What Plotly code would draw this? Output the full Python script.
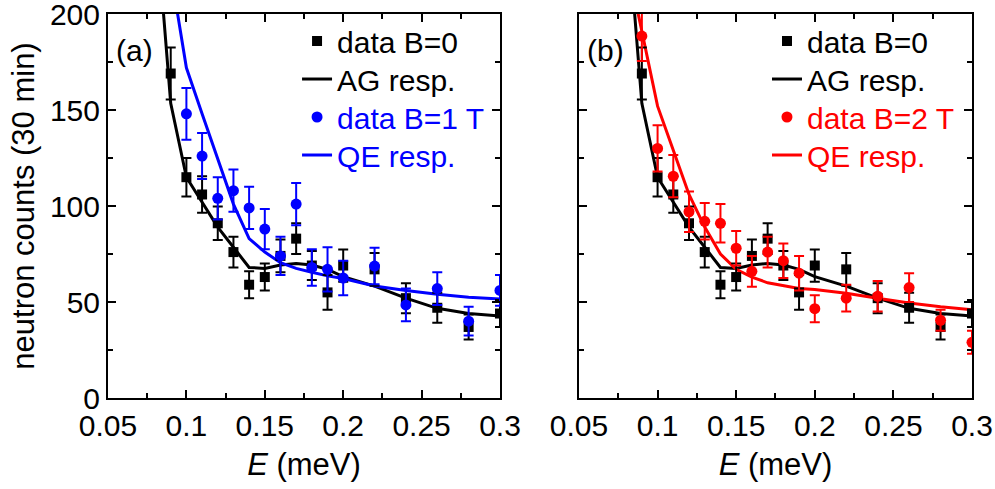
import plotly.graph_objects as go

# ---- data ----
E_B0 = [0.09, 0.10, 0.11, 0.12, 0.13, 0.14, 0.15, 0.16, 0.17, 0.18, 0.19, 0.20, 0.22, 0.24, 0.26, 0.28, 0.30]
cnt_B0 = [169, 115, 106, 91, 76, 59, 63, 74, 83, 69, 55, 69, 67, 52, 47, 37, 44]
err_B0 = [13.5, 10, 9.5, 8.7, 8, 7, 7, 8.5, 8, 7.5, 9, 8.4, 8.5, 7.8, 7.8, 6.5, 7]

E_B1 = [0.10, 0.11, 0.12, 0.13, 0.14, 0.15, 0.16, 0.17, 0.18, 0.19, 0.20, 0.22, 0.24, 0.26, 0.28, 0.30]
cnt_B1 = [148, 126, 104, 108, 99, 88, 74, 101, 68, 67, 62.5, 68.7, 48.5, 57, 40, 56]
err_B1 = [13.5, 12, 11, 11, 11, 10.5, 10, 11, 9.5, 11.5, 9, 9.5, 8.5, 8.5, 7.5, 8]

E_B2 = [0.09, 0.10, 0.11, 0.12, 0.13, 0.14, 0.15, 0.16, 0.17, 0.18, 0.19, 0.20, 0.22, 0.24, 0.26, 0.28, 0.30]
cnt_B2 = [188.5, 130, 115.5, 97, 92, 91, 78, 66, 76, 71.5, 65, 46.5, 52, 53, 57.5, 40.5, 29]
err_B2 = [13, 12, 11, 10.5, 9.5, 10, 9, 8, 8, 9, 9, 7, 7, 8, 7.5, 5.5, 6]

E_AG = [0.08, 0.09, 0.10, 0.11, 0.12, 0.13, 0.14, 0.15, 0.16, 0.17, 0.18, 0.19, 0.20, 0.22, 0.24, 0.26, 0.28, 0.30]
AG_resp = [255, 153.5, 115, 102, 89, 78.5, 68, 67.5, 69.3, 70.1, 69.3, 67, 63.2, 58.3, 52, 46.7, 44, 42.7]

E_QE1 = [0.09, 0.10, 0.11, 0.12, 0.13, 0.14, 0.15, 0.16, 0.17, 0.18, 0.19, 0.20, 0.22, 0.24, 0.26, 0.28, 0.30]
QE1_resp = [222, 172, 148, 124, 101, 83, 76, 70.5, 67.5, 65.5, 63.6, 62.2, 58.3, 56, 54, 52.5, 51.5]

E_QE2 = [0.08, 0.09, 0.10, 0.11, 0.12, 0.13, 0.14, 0.15, 0.16, 0.17, 0.18, 0.19, 0.20, 0.22, 0.24, 0.26, 0.28, 0.30]
QE2_resp = [230, 191, 152, 129, 106, 89, 75, 67, 63, 60, 58.3, 57, 56.5, 54.5, 52, 49.5, 47.5, 46]

FONT = "Liberation Sans, Arial, sans-serif"
BLUE = "#0000FF"
RED = "#FF0000"

fig = go.Figure()

def add_panel(xa, ya, legs, E_q, q_resp, E_d, cnt_d, err_d, color, dlabel):
    fig.add_trace(go.Scatter(x=E_AG, y=AG_resp, mode="lines", line=dict(color="black", width=3),
                             name="AG resp.", xaxis=xa, yaxis=ya, legend=legs[1]))
    fig.add_trace(go.Scatter(x=E_q, y=q_resp, mode="lines", line=dict(color=color, width=3),
                             name=f'<span style="color:{color}">QE resp.</span>',
                             xaxis=xa, yaxis=ya, legend=legs[3]))
    fig.add_trace(go.Scatter(x=E_B0, y=cnt_B0, mode="markers",
                             marker=dict(symbol="square", size=10, color="black"),
                             error_y=dict(type="data", array=err_B0, color="black", thickness=2, width=5),
                             name="data B=0", xaxis=xa, yaxis=ya, legend=legs[0]))
    fig.add_trace(go.Scatter(x=E_d, y=cnt_d, mode="markers",
                             marker=dict(symbol="circle", size=11, color=color),
                             error_y=dict(type="data", array=err_d, color=color, thickness=2, width=5),
                             name=f'<span style="color:{color}">{dlabel}</span>',
                             xaxis=xa, yaxis=ya, legend=legs[2]))

add_panel("x", "y", ["legend", "legend2", "legend3", "legend4"], E_QE1, QE1_resp, E_B1, cnt_B1, err_B1, BLUE, "data B=1 T")
add_panel("x2", "y2", ["legend5", "legend6", "legend7", "legend8"], E_QE2, QE2_resp, E_B2, cnt_B2, err_B2, RED, "data B=2 T")

xcommon = dict(range=[0.05, 0.3], tick0=0.05, dtick=0.05, ticks="inside", ticklen=8, tickwidth=2,
               tickcolor="black", showline=True, linewidth=2, linecolor="black", mirror="allticks",
               showgrid=False, zeroline=False, tickfont=dict(size=30, color="black"),
               ticklabeloverflow="allow", automargin=False,
               minor=dict(dtick=0.025, ticks="inside", ticklen=5, tickwidth=2, tickcolor="black"),
               title=dict(text="<i>E</i> (meV)", font=dict(size=31, color="black"), standoff=12))
ycommon = dict(range=[0, 200], tick0=0, dtick=50, ticks="inside", ticklen=8, tickwidth=2,
               tickcolor="black", showline=True, linewidth=2, linecolor="black", mirror="allticks",
               showgrid=False, zeroline=False, tickfont=dict(size=30, color="black"),
               ticklabeloverflow="allow", automargin=False,
               minor=dict(dtick=25, ticks="inside", ticklen=5, tickwidth=2, tickcolor="black"))

# legend rows (one legend per entry so rows can be placed like the reference)
row_tops = [0.9974, 0.8984, 0.7995, 0.7005]
legs = {}
names = ["legend", "legend2", "legend3", "legend4", "legend5", "legend6", "legend7", "legend8"]
for i, nm in enumerate(names):
    xpos = 0.2188 if i < 4 else 0.7627
    legs[nm] = dict(x=xpos, y=row_tops[i % 4], xanchor="left", yanchor="top",
                    bgcolor="rgba(0,0,0,0)", font=dict(size=30, color="black"))

fig.update_layout(
    width=995, height=489,
    margin=dict(l=108, r=23, t=14, b=91, autoexpand=False),
    paper_bgcolor="white", plot_bgcolor="white",
    font=dict(family=FONT, size=30, color="black"),
    showlegend=True,
    xaxis=dict(domain=[0, 0.4537], anchor="y", **xcommon),
    xaxis2=dict(domain=[0.5451, 1], anchor="y2", **xcommon),
    yaxis=dict(anchor="x", title=dict(text="neutron counts (30 min)", font=dict(size=31, color="black"), standoff=6), **ycommon),
    yaxis2=dict(anchor="x2", showticklabels=False, **ycommon),
    annotations=[
        dict(text="(a)", xref="x domain", yref="y domain", x=0.015, y=0.906, xanchor="left",
             yanchor="middle", showarrow=False, font=dict(size=30, color="black")),
        dict(text="(b)", xref="x2 domain", yref="y2 domain", x=0.015, y=0.906, xanchor="left",
             yanchor="middle", showarrow=False, font=dict(size=30, color="black")),
    ],
    **legs,
)

fig.write_html("out.html")
